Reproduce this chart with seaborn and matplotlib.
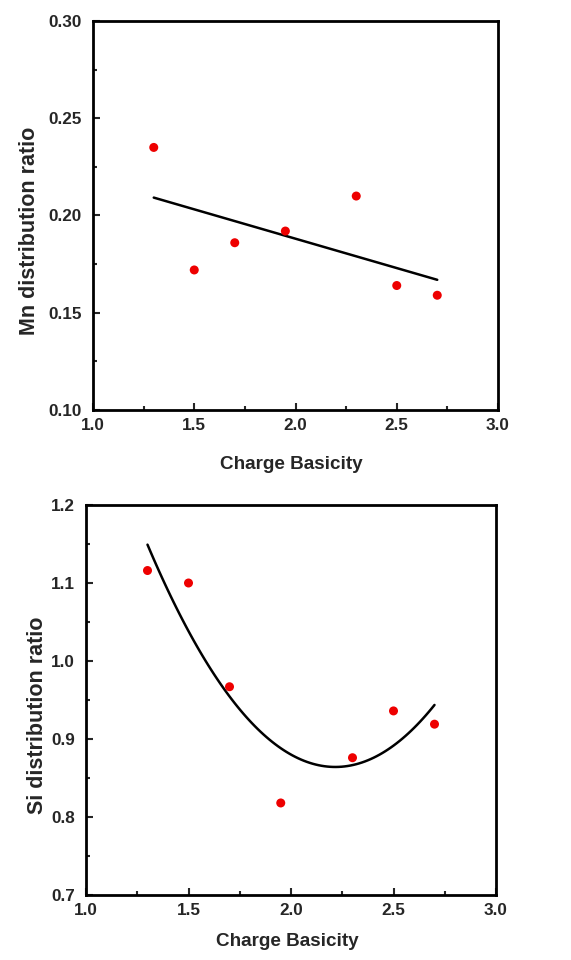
import matplotlib
matplotlib.use("Agg")
import matplotlib.pyplot as plt
import numpy as np
import pandas as pd
import seaborn as sns
from matplotlib.ticker import MultipleLocator, FormatStrFormatter

sns.set_style("ticks")
plt.rcParams["font.family"] = ["Liberation Sans", "DejaVu Sans"]
plt.rcParams["font.weight"] = "bold"

# Charge basicity of each heat
basicity = [1.3, 1.5, 1.7, 1.95, 2.3, 2.5, 2.7]
# Distribution ratios
mn_ratio = [0.235, 0.172, 0.186, 0.192, 0.210, 0.164, 0.159]
si_ratio = [1.116, 1.100, 0.967, 0.818, 0.876, 0.936, 0.919]

x_ticks = [1.0, 1.5, 2.0, 2.5, 3.0]
mn_ticks = [0.10, 0.15, 0.20, 0.25, 0.30]
si_ticks = [0.7, 0.8, 0.9, 1.0, 1.1, 1.2]

df = pd.DataFrame({"basicity": basicity, "mn": mn_ratio, "si": si_ratio})

fig = plt.figure(figsize=(5.71, 9.6), dpi=100)
W, H = 571, 960
ax1 = fig.add_axes([93 / W, 1 - 410 / H, (498 - 93) / W, (410 - 21) / H])
ax2 = fig.add_axes([86 / W, 1 - 895 / H, (496 - 86) / W, (895 - 505) / H])

panels = [
    (ax1, "mn", 1, "Mn distribution ratio", mn_ticks, "%.2f", (-0.157, 0.46), (0.49, -0.141)),
    (ax2, "si", 2, "Si distribution ratio", si_ticks, "%.1f", (-0.118, 0.462), (0.49, -0.118)),
]

for ax, col, order, ylabel, yt, fmt, ylc, xlc in panels:
    # scatter of measured ratios with a polynomial least-squares trend
    sns.regplot(data=df, x="basicity", y=col, order=order, ci=None, truncate=True,
                ax=ax,
                scatter_kws=dict(color="#ee0000", s=42, edgecolor="none",
                                 alpha=1.0, zorder=3),
                line_kws=dict(color="black", lw=1.8, zorder=2))
    ax.set_xlim(x_ticks[0], x_ticks[-1])
    ax.set_ylim(yt[0], yt[-1])
    ax.set_xticks(x_ticks)
    ax.set_yticks(yt)
    ax.xaxis.set_major_formatter(FormatStrFormatter("%.1f"))
    ax.yaxis.set_major_formatter(FormatStrFormatter(fmt))
    ax.xaxis.set_minor_locator(MultipleLocator(0.25))
    ax.yaxis.set_minor_locator(MultipleLocator((yt[1] - yt[0]) / 2))
    ax.tick_params(which="both", direction="in", top=False, right=False,
                   labelsize=12.3, width=1.5)
    ax.tick_params(axis="x", pad=6)
    ax.tick_params(axis="y", pad=8)
    ax.tick_params(which="major", length=5)
    ax.tick_params(which="minor", length=3)
    for lab in ax.get_xticklabels() + ax.get_yticklabels():
        lab.set_fontweight("bold")
    for sp in ax.spines.values():
        sp.set_visible(True)
        sp.set_linewidth(2)
        sp.set_color("black")
    ax.set_xlabel("Charge Basicity", fontsize=13.6, fontweight="bold", va="center")
    ax.set_ylabel(ylabel, fontsize=15.5, fontweight="bold", va="center")
    ax.yaxis.set_label_coords(*ylc)
    ax.xaxis.set_label_coords(*xlc)

fig.savefig("out.png", dpi=100)
